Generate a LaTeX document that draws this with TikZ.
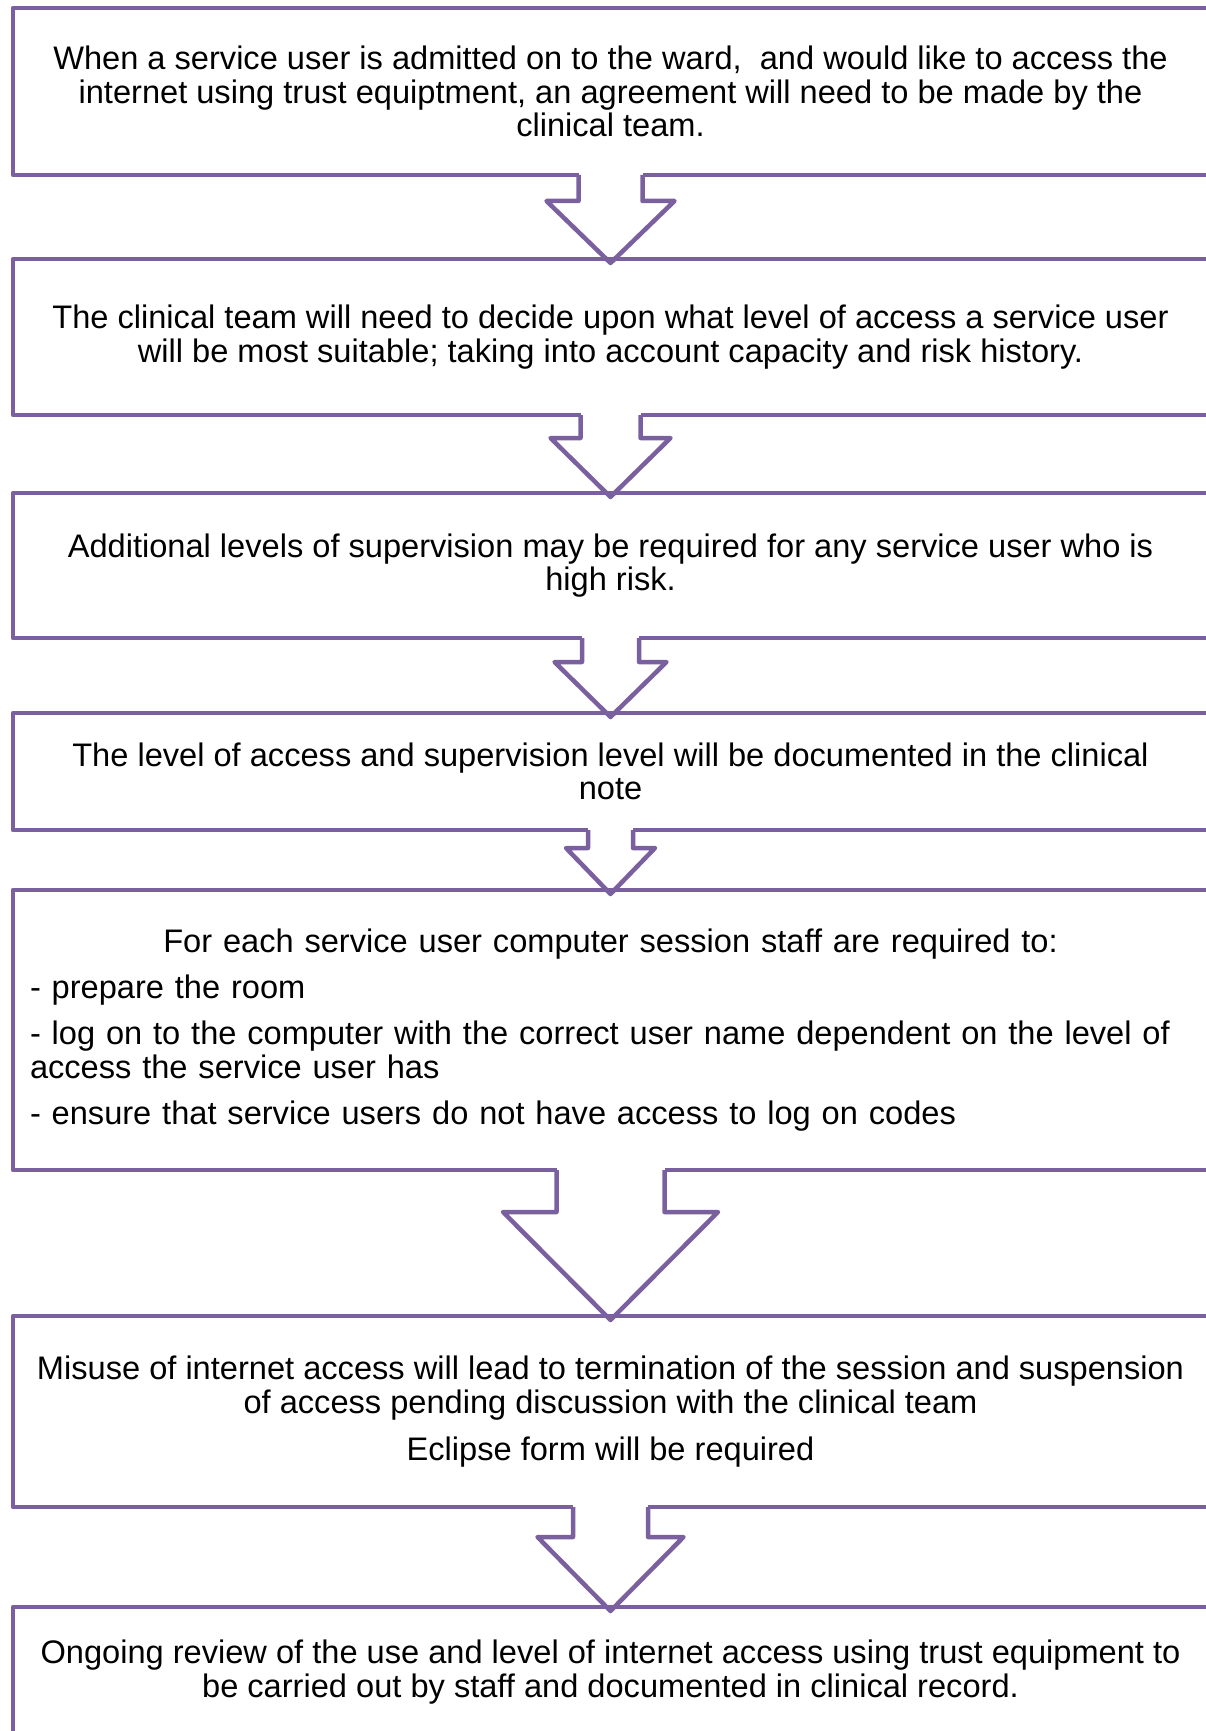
\documentclass[tikz,border=0pt]{standalone}
\usepackage{fontspec}
\setmainfont{Liberation Sans}
\usetikzlibrary{calc}
\definecolor{boxpurple}{RGB}{122,96,158}
\tikzset{
  flowbox/.style={draw=boxpurple, line width=4.5pt, line join=round, rectangle, outer sep=0pt, inner sep=0pt,
    anchor=north west, minimum width=1195pt, font=\fontsize{32.6}{33.6}\selectfont, align=center, text=black},
  flow/.style={draw=boxpurple, line width=4.5pt, line join=round},
}
\newcommand\blockarr[5]{%
  \fill[white] ($(#1.south)+(-#3,-3)$) rectangle ($(#1.south)+(#3,3)$);
  \draw[flow] ($(#1.south)+(-#3,0)$) -- ($(#1.south)+(-#3,#5)$) -- ($(#1.south)+(-#4,#5)$)
     -- ($(#2.north)+(0,4)$) -- ($(#1.south)+(#4,#5)$) -- ($(#1.south)+(#3,#5)$) -- ($(#1.south)+(#3,0)$);
}
\begin{document}
\begin{tikzpicture}[x=1pt,y=-1pt]
\useasboundingbox (0,0) rectangle (1206,1731);
\clip (0,0) rectangle (1206,1731);
\fill[white] (0,0) rectangle (1206,1731);
\node[flowbox, minimum height=167pt] (b1) at (13,8)
  {When a service user is admitted on to the ward,\ \ and would like to access the\\
   internet using trust equiptment, an agreement will need to be made by the\\
   clinical team.};
\node[flowbox, minimum height=156pt] (b2) at (13,259)
  {The clinical team will need to decide upon what level of access a service user\\
   will be most suitable; taking into account capacity and risk history.};
\node[flowbox, minimum height=145pt] (b3) at (13,493)
  {Additional levels of supervision may be required for any service user who is\\
   high risk.};
\node[flowbox, minimum height=117pt] (b4) at (13,713)
  {The level of access and supervision level will be documented in the clinical\\
   note};
\node[flowbox, minimum height=280pt, align=left, text width=1161pt] (b5) at (13,890)
  {\makebox[\linewidth][c]{For each service user computer session staff are required to:}\\[13pt]
   - prepare the room\\[12pt]
   - log on to the computer with the correct user name dependent on the level of\\
   access the service user has\\[13pt]
   - ensure that service users do not have access to log on codes};
\node[flowbox, minimum height=191pt] (b6) at (13,1316)
  {Misuse of internet access will lead to termination of the session and suspension\\
   of access pending discussion with the clinical team\\[13pt]
   Eclipse form will be required};
\node[flowbox, minimum height=130pt] (b7) at (13,1607)
  {Ongoing review of the use and level of internet access using trust equipment to\\
   be carried out by staff and documented in clinical record.};
\blockarr{b1}{b2}{32}{64}{26}
\blockarr{b2}{b3}{30}{60}{23}
\blockarr{b3}{b4}{28.5}{56}{24}
\blockarr{b4}{b5}{22.5}{44.5}{18}
\blockarr{b5}{b6}{54}{107.5}{42}
\blockarr{b6}{b7}{37.5}{73}{30}
\end{tikzpicture}
\end{document}
